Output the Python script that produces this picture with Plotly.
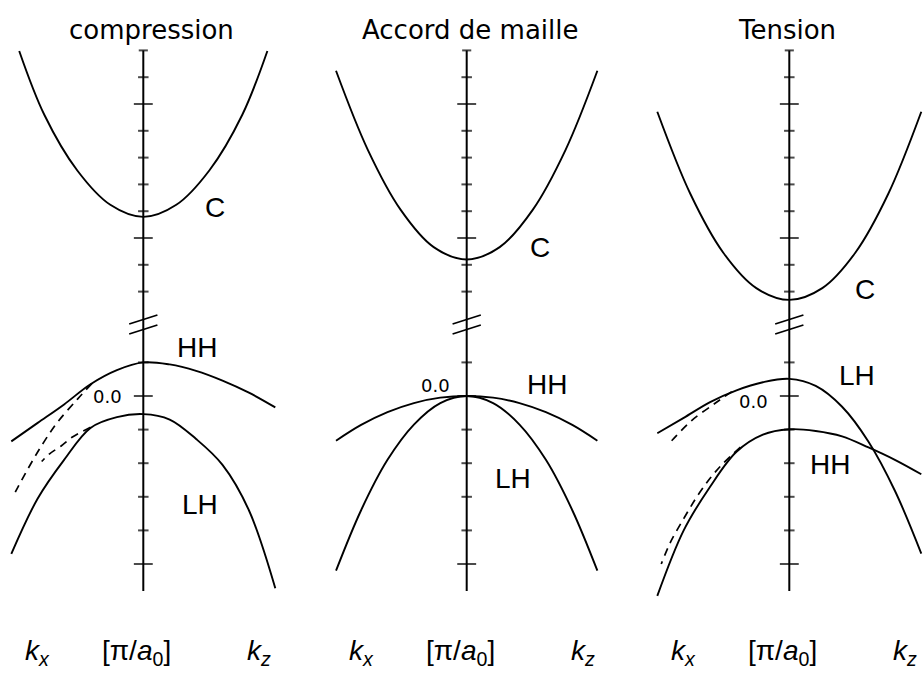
import plotly.graph_objects as go

W, H = 924, 673

# ---------------------------------------------------------------- data
TITLES = ["compression", "Accord de maille", "Tension"]

# conduction band C (upper part of the broken energy scale)
K_C_COMP = [-0.94, -0.75, -0.5, -0.25, 0.0, 0.25, 0.5, 0.75, 0.94]
E_C_COMP = [1.698, 1.46, 1.252, 1.124, 1.079, 1.124, 1.252, 1.46, 1.698]
K_C_ACC = [-0.99, -0.75, -0.5, -0.25, 0.0, 0.25, 0.5, 0.75, 0.99]
E_C_ACC = [1.624, 1.33, 1.105, 0.966, 0.92, 0.966, 1.105, 1.33, 1.624]
K_C_TEN = [-1.0, -0.75, -0.5, -0.25, 0.0, 0.25, 0.5, 0.75, 1.0]
E_C_TEN = [1.471, 1.165, 0.945, 0.813, 0.769, 0.813, 0.945, 1.165, 1.471]

# valence bands HH / LH (lower part of the scale), k_x < 0, k_z > 0
K_V = [-1.0, -0.8, -0.6, -0.4, -0.2, 0.0, 0.2, 0.4, 0.6, 0.8, 1.0]
K_V_ACC = [-0.99, -0.8, -0.6, -0.4, -0.2, 0.0, 0.2, 0.4, 0.6, 0.8, 0.99]
E_HH_COMP = [-0.135, -0.08, -0.025, 0.035, 0.077, 0.1, 0.094, 0.075, 0.046, 0.01, -0.034]
E_LH_COMP = [-0.47, -0.305, -0.19, -0.095, -0.063, -0.054, -0.07, -0.128, -0.205, -0.34, -0.572]
E_HH_ACC = [-0.133, -0.086, -0.048, -0.021, -0.005, 0.0, -0.005, -0.021, -0.048, -0.086, -0.133]
E_LH_ACC = [-0.52, -0.34, -0.19, -0.085, -0.021, 0.0, -0.021, -0.085, -0.19, -0.34, -0.52]
E_LH_TEN = [-0.111, -0.065, -0.018, 0.017, 0.041, 0.051, 0.03, -0.032, -0.136, -0.282, -0.469]
E_HH_TEN = [-0.595, -0.40, -0.27, -0.166, -0.115, -0.099, -0.104, -0.12, -0.153, -0.19, -0.233]

# dashed curves along k_x
K_DA_COMP = [-0.39, -0.5, -0.65, -0.75, -0.85, -0.97]
E_DA_COMP = [0.037, -0.01, -0.078, -0.135, -0.2, -0.286]
K_DB_COMP = [-0.4, -0.54, -0.62, -0.71, -0.77]
E_DB_COMP = [-0.093, -0.123, -0.148, -0.172, -0.195]
K_DA_TEN = [-0.436, -0.57, -0.74, -0.886, -0.92]
E_DA_TEN = [0.013, -0.024, -0.073, -0.131, -0.145]
K_DB_TEN = [-0.37, -0.5, -0.6, -0.7, -0.8, -0.9, -0.97]
E_DB_TEN = [-0.152, -0.2, -0.245, -0.3, -0.365, -0.435, -0.5]

# energy ticks on the central axis
UP_TICKS = [0.8, 0.9, 1.0, 1.1, 1.2, 1.3, 1.4, 1.5, 1.6]
UP_END = 1.7
LO_TICKS = [0.1, 0.0, -0.1, -0.2, -0.3, -0.4, -0.5]
LO_END = -0.58

# band labels: (text, k, E) per panel, upper and lower parts
C_LABELS = [("C", 0.543, 1.112), ("C", 0.556, 0.966), ("C", 0.573, 0.806)]
V_LABELS = [
    [("HH", 0.405, 0.143), ("LH", 0.43, -0.324)],
    [("HH", 0.606, 0.033), ("LH", 0.353, -0.245)],
    [("LH", 0.511, 0.0625), ("HH", 0.308, -0.205)],
]
ZERO_LABELS = [(-0.27, 0.0), (-0.233, 0.03), (-0.27, -0.017)]
BOTTOM_LABELS = [
    ("<i>k</i><i><sub>x</sub></i>", -0.8),
    ("[π/<i>a</i><sub>0</sub>]", -0.05),
    ("<i>k</i><i><sub>z</sub></i>", 0.88),
]

# ---------------------------------------------------------------- layout geometry (pixels)
CX = [143.3, 466.7, 789.3]          # k = 0 in each panel
PX_PER_K = 132.0
COL_EDGES = [0, 305, 628, 924]
UP_PX = (36, 322)
LO_PX = (322, 610)
UP_REF_E, UP_REF_P, UP_SCALE = 1.0, 238.0, 268.0
LO_REF_E, LO_REF_P, LO_SCALE = 0.0, 396.0, 336.0
TITLE_X = [151, 470, 787]
TITLE_Y = 30
BOTTOM_Y = 652
BREAK_Y = [319.5, 329.5]


def up_e(p):
    return UP_REF_E + (UP_REF_P - p) / UP_SCALE


def lo_e(p):
    return LO_REF_E + (LO_REF_P - p) / LO_SCALE


def ypaper(p):
    return 1 - p / H


LINE = dict(color="black", width=1.9)
DASH = dict(color="black", width=1.7, dash="8px,6px")

fig = go.Figure()

c_data = [(K_C_COMP, E_C_COMP), (K_C_ACC, E_C_ACC), (K_C_TEN, E_C_TEN)]
v_data = [
    [(K_V, E_HH_COMP), (K_V, E_LH_COMP)],
    [(K_V_ACC, E_HH_ACC), (K_V_ACC, E_LH_ACC)],
    [(K_V, E_LH_TEN), (K_V, E_HH_TEN)],
]
d_data = [
    [(K_DA_COMP, E_DA_COMP), (K_DB_COMP, E_DB_COMP)],
    [],
    [(K_DA_TEN, E_DA_TEN), (K_DB_TEN, E_DB_TEN)],
]


def tick_trace(vals, xa, ya, end=None):
    xs, ys, sizes = [], [], []
    for v in vals:
        xs.append(0)
        ys.append(v)
        sizes.append(13.5 if abs(round(v * 10)) % 5 == 0 else 7.5)
    if end is not None:
        xs.append(0)
        ys.append(end)
        sizes.append(6.5)
    return go.Scatter(
        x=xs, y=ys, mode="markers", xaxis=xa, yaxis=ya, hoverinfo="skip",
        marker=dict(symbol="line-ew", size=sizes, color="black",
                    line=dict(color="black", width=2)),
    )


layout = dict(
    width=W, height=H, margin=dict(l=0, r=0, t=0, b=0),
    paper_bgcolor="white", plot_bgcolor="white", showlegend=False,
)
annotations = []
shapes = []


def label(text, x, y, xref, yref, family, size):
    return dict(text=text, x=x, y=y, xref=xref, yref=yref, showarrow=False,
                xanchor="center", yanchor="middle",
                font=dict(family=family, size=size, color="black"))


for i in range(3):
    xu, yu = f"x{i + 1}", f"y{i + 1}"
    xl, yl = f"x{i + 4}", f"y{i + 4}"
    xdom = [COL_EDGES[i] / W, COL_EDGES[i + 1] / W]
    xrng = [(COL_EDGES[i] - CX[i]) / PX_PER_K, (COL_EDGES[i + 1] - CX[i]) / PX_PER_K]
    suffix_u = "" if i == 0 else str(i + 1)
    suffix_l = str(i + 4)
    for suf, yr, ydom in (
        (suffix_u, [up_e(UP_PX[1]), up_e(UP_PX[0])], [ypaper(UP_PX[1]), ypaper(UP_PX[0])]),
        (suffix_l, [lo_e(LO_PX[1]), lo_e(LO_PX[0])], [ypaper(LO_PX[1]), ypaper(LO_PX[0])]),
    ):
        layout["xaxis" + suf] = dict(domain=xdom, range=xrng, visible=False,
                                     anchor="y" + suf, fixedrange=True)
        layout["yaxis" + suf] = dict(domain=ydom, range=yr, visible=False,
                                     anchor="x" + suf, fixedrange=True)

    # central energy axis
    fig.add_trace(go.Scatter(x=[0, 0], y=[UP_END, up_e(UP_PX[1])], mode="lines",
                             line=dict(color="black", width=2), xaxis=xu, yaxis=yu,
                             hoverinfo="skip"))
    fig.add_trace(go.Scatter(x=[0, 0], y=[lo_e(LO_PX[0]), LO_END], mode="lines",
                             line=dict(color="black", width=2), xaxis=xl, yaxis=yl,
                             hoverinfo="skip"))
    fig.add_trace(tick_trace(UP_TICKS, xu, yu, end=UP_END))
    fig.add_trace(tick_trace(LO_TICKS, xl, yl))

    # bands
    k, e = c_data[i]
    fig.add_trace(go.Scatter(x=k, y=e, mode="lines", line=dict(LINE, shape="spline"),
                             xaxis=xu, yaxis=yu, hoverinfo="skip"))
    for k, e in v_data[i]:
        fig.add_trace(go.Scatter(x=k, y=e, mode="lines", line=dict(LINE, shape="spline"),
                                 xaxis=xl, yaxis=yl, hoverinfo="skip"))
    for k, e in d_data[i]:
        fig.add_trace(go.Scatter(x=k, y=e, mode="lines", line=dict(DASH, shape="spline"),
                                 xaxis=xl, yaxis=yl, hoverinfo="skip"))

    # axis break
    for yb in BREAK_Y:
        shapes.append(dict(type="line", xref=xu, yref="paper",
                           x0=-0.107, x1=0.107, y0=ypaper(yb + 4.5), y1=ypaper(yb - 4.5),
                           line=dict(color="black", width=1.8)))

    # texts
    annotations.append(label(TITLES[i], TITLE_X[i] / W, ypaper(TITLE_Y),
                             "paper", "paper", "DejaVu Sans", 26))
    t, kx, ey = C_LABELS[i]
    annotations.append(label(t, kx, ey, xu, yu, "Liberation Sans", 28))
    for t, kx, ey in V_LABELS[i]:
        annotations.append(label(t, kx, ey, xl, yl, "Liberation Sans", 28))
    kx, ey = ZERO_LABELS[i]
    annotations.append(label("0.0", kx, ey, xl, yl, "DejaVu Sans", 18))
    for t, kx in BOTTOM_LABELS:
        annotations.append(label(t, kx, ypaper(BOTTOM_Y), xl, "paper", "Liberation Sans", 28))

layout["annotations"] = annotations
layout["shapes"] = shapes
fig.update_layout(**layout)

fig.write_html("out.html")
